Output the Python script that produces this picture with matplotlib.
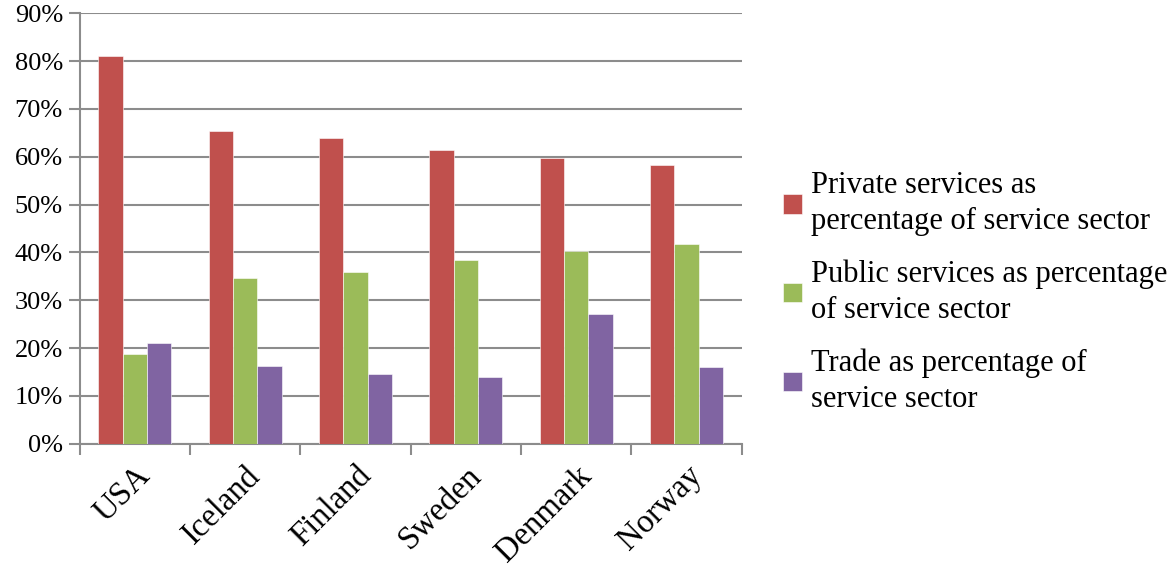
import numpy as np
import matplotlib.pyplot as plt
from matplotlib.ticker import PercentFormatter

# Datos
paises = ['USA', 'Iceland', 'Finland', 'Sweden', 'Denmark', 'Norway']
privados = [81.1, 65.4, 64.0, 61.4, 59.8, 58.2]
publicos = [18.8, 34.6, 35.9, 38.5, 40.2, 41.8]
comercio = [21.0, 16.3, 14.6, 14.0, 27.1, 16.1]

etiquetas = ['Private services as\npercentage of service sector',
             'Public services as percentage\nof service sector',
             'Trade as percentage of\nservice sector']
colores = ['#C0504D', '#9BBB59', '#8064A2']

plt.rcParams['font.family'] = ['Liberation Serif', 'DejaVu Serif']

fig = plt.figure(figsize=(11.7, 5.74), dpi=100)
ax = fig.add_axes([0.068, 0.227, 0.566, 0.75])

x = np.arange(len(paises))
ancho = 0.22
for i, (serie, color, etiqueta) in enumerate(zip([privados, publicos, comercio], colores, etiquetas)):
    ax.bar(x + (i - 1) * ancho, serie, ancho, color=color, label=etiqueta,
           edgecolor='white', linewidth=0.4, zorder=3)

ax.set_xlim(-0.5, len(paises) - 0.5)
ax.set_ylim(0, 90)
ax.set_yticks(np.arange(0, 91, 10))
ax.yaxis.set_major_formatter(PercentFormatter(decimals=0))
ax.grid(axis='y', color='#8c8c8c', linewidth=1.5, zorder=0)

ax.set_xticks(x)
ax.set_xticklabels(paises, rotation=45, ha='right', rotation_mode='anchor', fontsize=23.5)
ax.set_xticks(np.arange(-0.5, len(paises)), minor=True)
ax.tick_params(axis='x', which='major', length=0, pad=12)
ax.tick_params(axis='x', which='minor', length=8, width=1.5, color='#8c8c8c')
ax.tick_params(axis='y', length=8, width=1.5, color='#8c8c8c', labelsize=19, pad=4)

for lado in ['top', 'right']:
    ax.spines[lado].set_visible(False)
for lado in ['left', 'bottom']:
    ax.spines[lado].set_color('#8c8c8c')
    ax.spines[lado].set_linewidth(1.5)

leyenda = fig.legend(loc='center left', bbox_to_anchor=(0.646, 0.49), frameon=False,
                     fontsize=22, handlelength=0.6, handleheight=0.6, handletextpad=0.3,
                     labelspacing=0.78)
for t in leyenda.get_texts():
    t.set_linespacing(1.3)

fig.savefig('out.png', dpi=100)
